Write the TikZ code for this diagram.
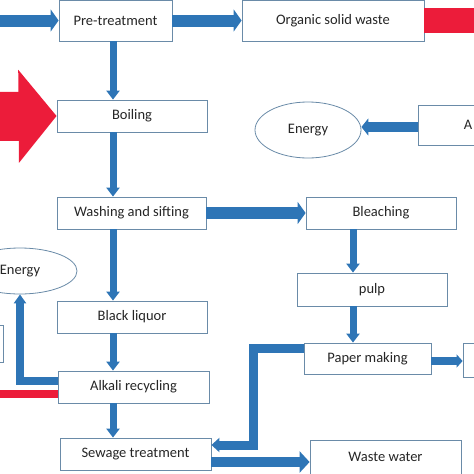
\documentclass[tikz,border=0pt]{standalone}
\usepackage{fontspec}
\setmainfont{Carlito}
\usetikzlibrary{arrows.meta,shapes.geometric,positioning}

\definecolor{arrblue}{HTML}{2E75B6}
\definecolor{arrred}{HTML}{EC1C3A}
\definecolor{boxline}{HTML}{6A8BA8}
\definecolor{txt}{HTML}{262626}

\begin{document}
\begin{tikzpicture}[x=1pt,y=-1pt,
  box/.style={draw=boxline,line width=0.8pt,fill=white,minimum height=32pt,
    inner sep=0pt,text=txt,font=\fontsize{14.5}{16}\selectfont},
  blob/.style={ellipse,draw=boxline,line width=0.8pt,fill=white,inner sep=0pt,
    text=txt,font=\fontsize{14.5}{16}\selectfont},
  down/.style={draw=arrblue,line width=7pt,-{Triangle[length=9pt,width=13pt]}},
  across/.style={draw=arrblue,line width=12pt,-{Triangle[length=8pt,width=22pt]}},
  redbar/.style={draw=arrred,line width=8pt}]
  \useasboundingbox (0,0) rectangle (474,474);
  \coordinate (col) at (113,0);
  \coordinate (col2) at (353,0);
  \coordinate (feed) at (-5,20.5);
  \coordinate (redout) at (480,20.5);
  \coordinate (redin) at (-5,116.5);
  \coordinate (redleft) at (-5,394);
  \node[box,minimum width=113pt,minimum height=41pt] (pre) at (115.5,20.5) {Pre-treatment};
  \node[box,minimum width=182pt,minimum height=41pt] (organic) at (333,20.5) {Organic solid waste};
  \node[box,minimum width=150pt] (boiling) at (132,116) {Boiling};
  \node[box,minimum width=149pt] (washing) at (131.5,213) {Washing and sifting};
  \node[box,minimum width=150pt] (bleach) at (381,213) {Bleaching};
  \node[box,minimum width=150pt,minimum height=33pt] (pulp) at (372,289.5) {pulp};
  \node[box,minimum width=150pt] (liquor) at (132,317) {Black liquor};
  \node[box,minimum width=151pt] (alkali) at (133.5,387) {Alkali recycling};
  \node[box,minimum width=151pt] (sewage) at (135.5,454) {Sewage treatment};
  \node[box,minimum width=127pt,minimum height=31pt] (paper) at (367.5,358.5) {Paper making};
  \node[box,minimum width=151pt,minimum height=34pt] (waste) at (385.5,457) {Waste water};
  \node[box,minimum width=60pt,minimum height=34pt] (product) at (493,360) {};
  \node[box,minimum width=106pt,minimum height=37pt] (leftbox) at (-50,343.5) {};
  \node[box,minimum width=120pt,minimum height=40pt] (abox) at (478,125) {};
  \node[anchor=west,inner sep=0pt,text=txt,font=\fontsize{14.5}{16}\selectfont] (atext) at ([xshift=46pt]abox.west) {A};
  \node[blob,minimum width=106pt,minimum height=56pt] (energyR) at (308,130) {Energy};
  \node[blob,minimum width=114pt,minimum height=46pt] (energyL) at (20,271) {Energy};
  \draw[across] (feed) -- (pre.west);
  \draw[across] (pre.east) -- (organic.west);
  \draw[draw=arrred,line width=25pt] (organic.east) -- (redout);
  \draw[draw=arrred,line width=49pt,-{Triangle[length=38pt,width=91pt]}] (redin) -- (boiling.west);
  \draw[down] (pre.south -| col) -- (boiling.north -| col);
  \draw[down] (boiling.south -| col) -- (washing.north -| col);
  \draw[down] (washing.south -| col) -- (liquor.north -| col);
  \draw[down] (liquor.south -| col) -- (alkali.north -| col);
  \draw[down] (alkali.south -| col) -- (sewage.north -| col);
  \draw[across] (washing.east) -- (bleach.west);
  \draw[down] (bleach.south -| col2) -- (pulp.north -| col2);
  \draw[down] (pulp.south -| col2) -- (paper.north -| col2);
  \draw[draw=arrblue,line width=8pt,-{Triangle[length=6pt,width=13pt]}] ([yshift=-2.5pt]paper.east) -- ([yshift=-2.5pt]paper.east -| product.west);
  \draw[draw=arrblue,line width=10pt,-{Triangle[length=7pt,width=17pt]}] ([yshift=-2pt]abox.west) -- ([yshift=-2pt]abox.west -| energyR.east);
  \draw[draw=arrblue,line width=8pt,-{Triangle[length=9pt,width=12pt]}] ([yshift=6pt]alkali.west) -| (energyL.south);
  \draw[redbar] ([yshift=-7pt]alkali.west) -- (redleft);
  \draw[draw=arrblue,line width=9pt,-{Triangle[length=8pt,width=14pt]}] ([yshift=10pt]paper.west) -- ++(-50,0) |- ([yshift=9pt]sewage.east);
  \draw[draw=arrblue,line width=10pt,-{Triangle[length=10pt,width=21pt]}] ([yshift=-8pt]sewage.east) -- ([yshift=-8pt]sewage.east -| waste.west);
\end{tikzpicture}
\end{document}
